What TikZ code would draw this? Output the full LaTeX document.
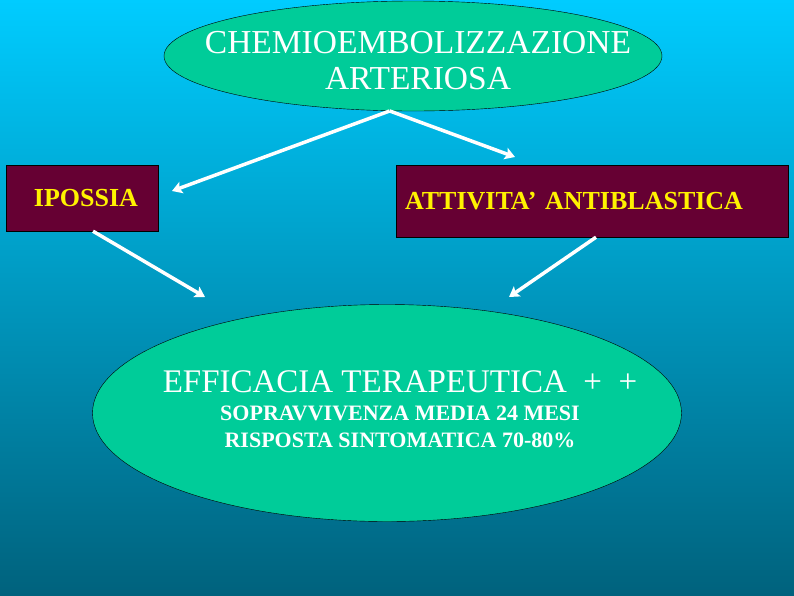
\documentclass[tikz,border=0pt]{standalone}
\usepackage{fontspec}
\setmainfont{Liberation Serif}
\usepackage{tikz}
\usetikzlibrary{shapes.geometric}
\usetikzlibrary{arrows.meta}
\definecolor{bgTop}{RGB}{0,204,255}
\definecolor{bgMid}{RGB}{0,160,200}
\definecolor{bgBot}{RGB}{0,98,125}
\definecolor{oval}{RGB}{0,204,153}
\definecolor{wine}{RGB}{102,0,51}
\tikzstyle{oval}=[draw, ellipse, fill=oval, inner ysep=0pt, text=white, align=center]
\tikzstyle{block}=[draw, fill=wine, inner sep=0pt, text=yellow, font=\fontsize{26}{30}\selectfont\bfseries]
\tikzstyle{arr}=[white, line width=3.5pt, -{Stealth[length=10pt, width=12pt, inset=2pt]}]

\begin{document}
\begin{tikzpicture}[x=1pt, y=-1pt]
        \shade[top color=bgTop, middle color=bgMid, bottom color=bgBot] (0,0) rectangle (794,595);
        \node[oval, inner xsep=-42pt, minimum width=497pt, minimum height=110pt, font=\fontsize{33.5}{36}\selectfont] (chemo) at (413,56) {\hspace*{10pt}\rule{0pt}{31pt}CHEMIOEMBOLIZZAZIONE\\\hspace*{10pt}ARTERIOSA};
        \node[block, minimum width=152pt, minimum height=66pt] (ipossia) at (82,198) {\hspace*{8pt}IPOSSIA};
        \node[block, text width=374pt, inner xsep=9pt, align=left, minimum height=72pt] (attivita) at (592,201) {ATTIVITA’ ANTIBLASTICA};
        \node[oval, inner xsep=-42pt, minimum width=588pt, minimum height=217pt, font=\fontsize{22}{27}\selectfont\bfseries] (efficacia) at (387,413) {\hspace*{26pt}{\mdseries\fontsize{33}{33}\selectfont EFFICACIA TERAPEUTICA \ +\ \ +}\\[1pt]
            \hspace*{26pt}SOPRAVVIVENZA MEDIA 24 MESI\\
            \hspace*{26pt}RISPOSTA SINTOMATICA 70-80\%\rule[-7pt]{0pt}{7pt}};
        \coordinate (ipTip) at (172,191);
        \coordinate (atTip) at (515,157);
        \coordinate (efLeft) at (205,297);
        \coordinate (efRight) at (509,297);
        \draw[arr] (chemo.247) -- (ipTip);
        \draw[arr] (chemo.247) -- (atTip);
        \draw[arr] ([xshift=11pt]ipossia.south) -- (efLeft);
        \draw[arr] ([xshift=4pt]attivita.south) -- (efRight);
    \end{tikzpicture}
\end{document}
